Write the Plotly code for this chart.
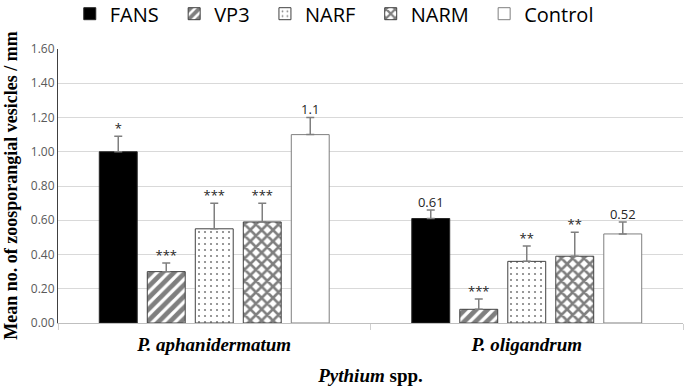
import plotly.graph_objects as go

categories = ["P. aphanidermatum", "P. oligandrum"]
treatments = ["FANS", "VP3", "NARF", "NARM", "Control"]
fans = [1.00, 0.61]
vp3 = [0.30, 0.08]
narf = [0.55, 0.36]
narm = [0.59, 0.39]
control = [1.10, 0.52]
fans_err = [0.09, 0.05]
vp3_err = [0.05, 0.06]
narf_err = [0.15, 0.09]
narm_err = [0.11, 0.14]
control_err = [0.10, 0.07]
fans_lbl = ["*", "0.61"]
vp3_lbl = ["***", "***"]
narf_lbl = ["***", "**"]
narm_lbl = ["***", "**"]
control_lbl = ["1.1", "0.52"]
y_ticks = [0, 0.2, 0.4, 0.6, 0.8, 1.0, 1.2, 1.4, 1.6]
y_title = "Mean no. of zoosporangial vesicles / mm"

values = [fans, vp3, narf, narm, control]
errors = [fans_err, vp3_err, narf_err, narm_err, control_err]
labels = [fans_lbl, vp3_lbl, narf_lbl, narm_lbl, control_lbl]

styles = [
    dict(color="black", pattern=dict(shape=""), line=dict(color="#262626", width=1)),
    dict(color="white", pattern=dict(shape="/", fgcolor="black", bgcolor="white", size=8, solidity=0.6), line=dict(color="#404040", width=1)),
    dict(color="white", pattern=dict(shape=".", fgcolor="black", bgcolor="white", size=6, solidity=0.1), line=dict(color="#404040", width=1)),
    dict(color="white", pattern=dict(shape="x", fgcolor="black", bgcolor="white", size=8, solidity=0.55), line=dict(color="#404040", width=1)),
    dict(color="white", pattern=dict(shape=""), line=dict(color="#7f7f7f", width=1)),
]
pad = "\u00a0\u00a0"
legend_names = [t + pad if i < 4 else t for i, t in enumerate(treatments)]

fig = go.Figure()
for name, lname, v, e, st in zip(treatments, legend_names, values, errors, styles):
    fig.add_trace(go.Bar(
        x=categories, y=v, name=lname, offsetgroup=name,
        marker=dict(color=st["color"], pattern=st["pattern"], line=st["line"]),
        error_y=dict(type="data", array=e, symmetric=False, arrayminus=[0] * len(e),
                     color="#7f7f7f", thickness=1.5, width=4),
    ))

for name, v, e, lb in zip(treatments, values, errors, labels):
    fig.add_trace(go.Scatter(
        x=categories, y=[a + b for a, b in zip(v, e)], mode="text", text=lb,
        textposition="top center", offsetgroup=name, showlegend=False,
        textfont=dict(family="Open Sans", size=13, color="#262626"),
        hoverinfo="skip",
    ))

fig.update_layout(
    width=685, height=389,
    margin=dict(l=58, r=2, t=49, b=66, autoexpand=False),
    paper_bgcolor="white", plot_bgcolor="white",
    barmode="group", bargap=0.232, bargroupgap=0.21,
    scattermode="group", scattergap=0.232,
    showlegend=True,
    legend=dict(orientation="h", xref="container", yref="paper", x=0.488, xanchor="center",
                y=1.2, yanchor="top", font=dict(family="Open Sans", size=20, color="black"),
                itemwidth=30, tracegroupgap=0, bgcolor="rgba(0,0,0,0)"),
    font=dict(family="Open Sans"),
    annotations=[dict(text="<b>" + y_title + "</b>", textangle=-90, xref="paper", yref="paper",
                      x=-0.0755, y=0.5, xanchor="center", yanchor="middle", showarrow=False,
                      font=dict(family="Liberation Serif", size=18, color="black"))],
)
fig.update_yaxes(
    range=[0, 1.6], tickvals=y_ticks, tickformat=".2f",
    automargin=False,
    showgrid=True, gridcolor="#d9d9d9", gridwidth=1,
    showline=True, linecolor="#404040", linewidth=1,
    zeroline=False, ticks="",
    tickfont=dict(family="Open Sans", size=12, color="#595959"),
)
fig.update_xaxes(
    automargin=False,
    showline=True, linecolor="#bfbfbf", linewidth=1,
    ticks="outside", tickson="boundaries", ticklen=6, tickcolor="#d0d0d0",
    ticklabelstandoff=4,
    tickmode="array", tickvals=categories,
    ticktext=["<b><i>" + c + "</i></b>" for c in categories],
    tickfont=dict(family="Liberation Serif", size=19, color="black"),
    title=dict(text="<b><i>Pythium</i> spp.</b>",
               font=dict(family="Liberation Serif", size=19, color="black"), standoff=14),
)

fig.write_html("out.html", config={"displayModeBar": False},
               post_script="document.body.style.margin='0';")
